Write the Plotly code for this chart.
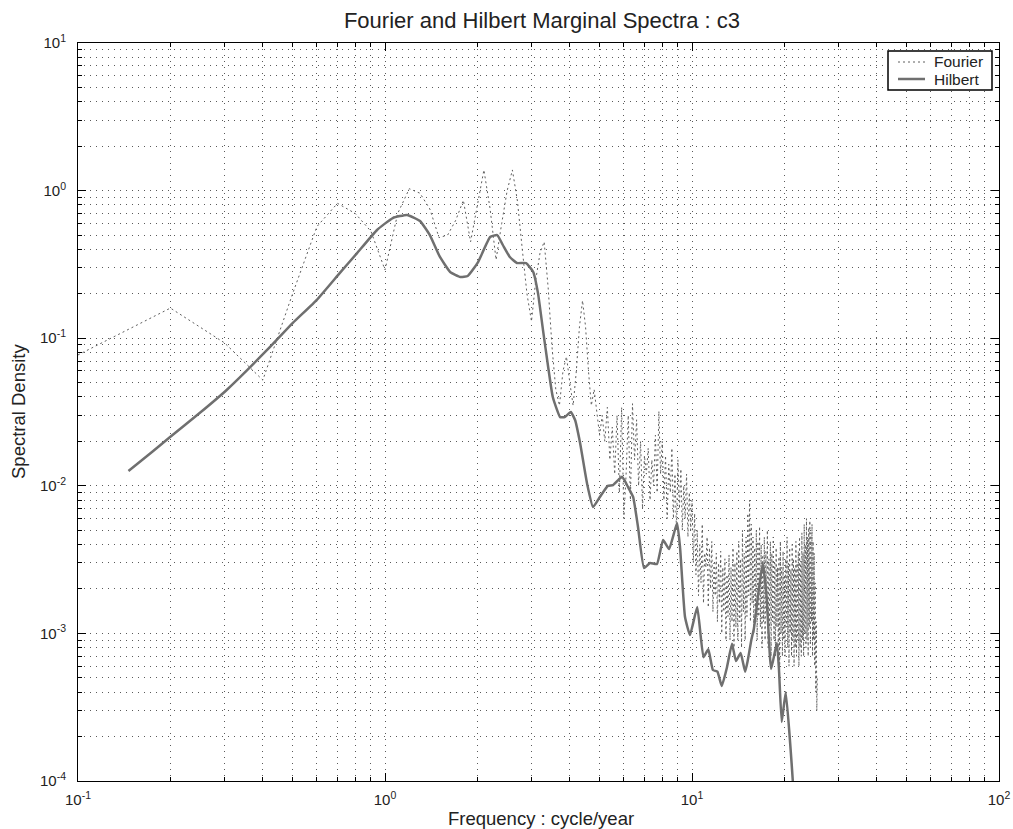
import plotly.graph_objects as go

# Hilbert marginal spectrum: frequency (cycle/year) and spectral density
hilbert_freq = [
    0.146, 0.175, 0.1995, 0.249, 0.305, 0.413, 0.501, 0.600, 0.713, 0.811,
    0.942, 1.06, 1.18, 1.30, 1.40, 1.51, 1.63, 1.76, 1.86, 2.01,
    2.20, 2.32, 2.42, 2.55, 2.69, 2.88, 3.04, 3.15, 3.27, 3.40,
    3.52, 3.72, 3.85, 4.03, 4.16, 4.32, 4.55, 4.76, 5.01, 5.32,
    5.53, 5.92, 6.19, 6.43, 6.67, 6.98, 7.30, 7.69, 8.05, 8.42,
    8.94, 9.14, 9.49, 9.85, 10.4, 10.9, 11.3, 11.7, 12.1, 12.5,
    13.0, 13.5, 13.9, 14.4, 14.9, 15.2, 15.6, 15.9, 16.3, 17.0,
    17.5, 18.1, 18.9, 19.2, 19.6, 20.2, 21.3, 21.8,
]
hilbert_psd = [
    0.0126, 0.0171, 0.0214, 0.0311, 0.0446, 0.0832, 0.127, 0.182, 0.277, 0.377,
    0.541, 0.652, 0.684, 0.622, 0.500, 0.355, 0.281, 0.260, 0.264, 0.328,
    0.485, 0.500, 0.428, 0.355, 0.323, 0.323, 0.281, 0.202, 0.114, 0.0638,
    0.040, 0.0292, 0.0292, 0.0316, 0.0279, 0.0195, 0.0104, 0.00718, 0.00839, 0.00998,
    0.0101, 0.0115, 0.0098, 0.0084, 0.00526, 0.00277, 0.0030, 0.00295, 0.0043, 0.00373,
    0.0056, 0.00385, 0.00129, 0.000975, 0.00151, 0.00069, 0.00078, 0.000565, 0.00055, 0.00044,
    0.00059, 0.00085, 0.00065, 0.000736, 0.00055, 0.00066, 0.00090, 0.00107, 0.00161, 0.0030,
    0.00177, 0.000574, 0.00086, 0.00057, 0.000251, 0.0004, 0.0001, 0.00004,
]

# Fourier spectrum, one value every 0.1 cycle/year starting at 0.1
fourier_df = 0.1
fourier_psd = [
    # 0.1 - 1.0
    0.077, 0.16, 0.093, 0.052, 0.20, 0.57, 0.82, 0.70, 0.53, 0.29,
    # 1.1 - 2.0
    0.70, 1.03, 0.96, 0.75, 0.48, 0.50, 0.63, 0.86, 0.45, 0.80,
    # 2.1 - 3.0
    1.38, 0.75, 0.34, 0.60, 1.0, 1.38, 0.85, 0.40, 0.20, 0.13,
    # 3.1 - 4.0
    0.25, 0.38, 0.45, 0.22, 0.087, 0.045, 0.035, 0.06, 0.075, 0.05,
    # 4.1 - 5.0
    0.035, 0.06, 0.12, 0.18, 0.12, 0.06, 0.035, 0.045, 0.03, 0.022,
    # 5.1 - 6.0
    0.03, 0.02, 0.034, 0.015, 0.025, 0.012, 0.03, 0.009, 0.034, 0.006,
    # 6.1 - 7.0
    0.012, 0.03, 0.008, 0.036, 0.015, 0.028, 0.01, 0.02, 0.007, 0.016,
    # 7.1 - 8.0
    0.012, 0.018, 0.008, 0.015, 0.01, 0.022, 0.009, 0.032, 0.012, 0.02,
    # 8.1 - 9.0
    0.008, 0.016, 0.006, 0.014, 0.009, 0.018, 0.006, 0.012, 0.005, 0.015,
    # 9.1 - 10.0
    0.007, 0.013, 0.005, 0.01, 0.006, 0.012, 0.0045, 0.009, 0.005, 0.008,
    # 10.1 - 11.0
    0.003, 0.0065, 0.0025, 0.005, 0.0018, 0.004, 0.0022, 0.0055, 0.0016, 0.0035,
    # 11.1 - 12.0
    0.0028, 0.0045, 0.0015, 0.0038, 0.002, 0.0042, 0.0014, 0.003, 0.0018, 0.0035,
    # 12.1 - 13.0
    0.0012, 0.003, 0.0016, 0.0036, 0.001, 0.0028, 0.0014, 0.0032, 0.0009, 0.0025,
    # 13.1 - 14.0
    0.0013, 0.0034, 0.0009, 0.0028, 0.0012, 0.0038, 0.0008, 0.003, 0.0011, 0.0036,
    # 14.1 - 15.0
    0.0009, 0.0042, 0.0012, 0.0032, 0.0008, 0.005, 0.0014, 0.0035, 0.0009, 0.0045,
    # 15.1 - 16.0
    0.0013, 0.0065, 0.0018, 0.008, 0.0012, 0.0055, 0.0016, 0.0045, 0.001, 0.0038,
    # 16.1 - 17.0
    0.0015, 0.005, 0.0009, 0.0042, 0.0013, 0.0053, 0.0011, 0.004, 0.0008, 0.0034,
    # 17.1 - 18.0
    0.0012, 0.0045, 0.0009, 0.0036, 0.0014, 0.005, 0.0008, 0.0032, 0.0011, 0.0042,
    # 18.1 - 19.0
    0.0007, 0.0035, 0.0012, 0.0045, 0.0009, 0.003, 0.0007, 0.0038, 0.0011, 0.0028,
    # 19.1 - 20.0
    0.0008, 0.0033, 0.0006, 0.0042, 0.001, 0.0028, 0.0007, 0.0036, 0.0009, 0.0025,
    # 20.1 - 21.0
    0.0007, 0.0032, 0.0011, 0.0045, 0.0008, 0.003, 0.0006, 0.0038, 0.001, 0.0027,
    # 21.1 - 22.0
    0.0007, 0.004, 0.0009, 0.0032, 0.0006, 0.0028, 0.0008, 0.0042, 0.0007, 0.003,
    # 22.1 - 23.0
    0.0009, 0.0036, 0.0006, 0.0045, 0.0008, 0.0031, 0.0007, 0.0048, 0.0009, 0.0035,
    # 23.1 - 24.0
    0.0007, 0.0055, 0.001, 0.004, 0.0008, 0.006, 0.0009, 0.0045, 0.0007, 0.0052,
    # 24.1 - 25.0
    0.0011, 0.0058, 0.0008, 0.0048, 0.0012, 0.0055, 0.0007, 0.0042, 0.0009, 0.0035,
    # 25.1 - 25.6
    0.0006, 0.0022, 0.0004, 0.0012, 0.0003, 0.0005,
]
fourier_freq = [round(fourier_df * (k + 1), 2) for k in range(len(fourier_psd))]

x_tick_vals = [0.1, 1, 10, 100]
x_tick_text = ["10<sup>-1</sup>", "10<sup>0</sup>", "10<sup>1</sup>", "10<sup>2</sup>"]
y_tick_vals = [1e-4, 1e-3, 1e-2, 1e-1, 1, 10]
y_tick_text = ["10<sup>-4</sup>", "10<sup>-3</sup>", "10<sup>-2</sup>",
               "10<sup>-1</sup>", "10<sup>0</sup>", "10<sup>1</sup>"]

FONT = "Liberation Sans, Arial, Helvetica, sans-serif"
TEXT = "#222"
GRID = "#5a5a5a"
GRID_DASH = "1px,5px"
FOURIER_LINE = dict(color="#5e5e5e", width=1, dash="2px,3px")
HILBERT_LINE = dict(color="#6f6f6f", width=2.5)

# Plot area in pixels (used for paper-relative placement of labels/legend)
W, H = 1013, 829
L, R, T, B = 78, 999, 43, 781


def px_x(px):
    return (px - L) / (R - L)


def px_y(py):
    return (B - py) / (B - T)


def minor_positions(lo_exp, hi_exp):
    return [m * 10.0 ** e for e in range(lo_exp, hi_exp) for m in range(2, 10)]


fig = go.Figure()

fig.add_trace(go.Scatter(
    x=fourier_freq, y=fourier_psd, mode="lines", name="Fourier",
    line=FOURIER_LINE, showlegend=False,
))
fig.add_trace(go.Scatter(
    x=hilbert_freq, y=hilbert_psd, mode="lines", name="Hilbert",
    line=dict(**HILBERT_LINE, shape="spline", smoothing=0.4), showlegend=False,
))

axis_common = dict(
    type="log", automargin=False,
    showline=True, linecolor="black", linewidth=1, mirror="ticks",
    ticks="inside", ticklen=8, tickcolor="black", tickwidth=1,
    showgrid=True, gridcolor=GRID, gridwidth=1, griddash=GRID_DASH,
    zeroline=False,
    tickfont=dict(family=FONT, size=15, color=TEXT),
)

fig.update_xaxes(
    **axis_common,
    range=[-1, 2],
    tickmode="array", tickvals=x_tick_vals, ticktext=x_tick_text,
    ticklabelstandoff=5,
    minor=dict(tickmode="array", tickvals=minor_positions(-1, 2),
               ticks="inside", ticklen=4, tickcolor="black",
               showgrid=True, gridcolor=GRID, gridwidth=1, griddash=GRID_DASH),
)
fig.update_yaxes(
    **axis_common,
    range=[-4, 1],
    tickmode="array", tickvals=y_tick_vals, ticktext=y_tick_text,
    ticklabelstandoff=8,
    minor=dict(tickmode="array", tickvals=minor_positions(-4, 1),
               ticks="inside", ticklen=4, tickcolor="black",
               showgrid=True, gridcolor=GRID, gridwidth=1, griddash=GRID_DASH),
)

# Legend box drawn in paper coordinates
leg_x0, leg_x1, leg_y0, leg_y1 = 888, 992, 51, 90
legend_rows = [("Fourier", FOURIER_LINE, 62), ("Hilbert", HILBERT_LINE, 79)]

shapes = [dict(type="rect", xref="paper", yref="paper",
               x0=px_x(leg_x0), x1=px_x(leg_x1), y0=px_y(leg_y1), y1=px_y(leg_y0),
               line=dict(color="black", width=1.5), fillcolor="white", layer="above")]
annotations = []
for name, style, row_y in legend_rows:
    shapes.append(dict(type="line", xref="paper", yref="paper",
                       x0=px_x(898), x1=px_x(925), y0=px_y(row_y), y1=px_y(row_y),
                       line=style, layer="above"))
    annotations.append(dict(text=name, xref="paper", yref="paper",
                            x=px_x(932), y=px_y(row_y), xanchor="left", yanchor="middle",
                            showarrow=False, font=dict(family=FONT, size=15.5, color=TEXT)))

annotations += [
    dict(text="Frequency : cycle/year", xref="paper", yref="paper",
         x=px_x(541), y=px_y(818), xanchor="center", yanchor="middle",
         showarrow=False, font=dict(family=FONT, size=18.5, color=TEXT)),
    dict(text="Spectral Density", xref="paper", yref="paper",
         x=px_x(18), y=px_y(412), xanchor="center", yanchor="middle",
         textangle=-90, showarrow=False,
         font=dict(family=FONT, size=18.5, color=TEXT)),
]

fig.update_layout(
    width=W, height=H,
    margin=dict(l=L, r=W - R, t=T, b=H - B),
    paper_bgcolor="white", plot_bgcolor="white",
    font=dict(family=FONT, color=TEXT),
    title=dict(
        text="Fourier and Hilbert Marginal Spectra : c3",
        x=542 / W, xanchor="center",
        y=1 - 20 / H, yanchor="middle", yref="container",
        font=dict(family=FONT, size=22, color=TEXT),
    ),
    showlegend=False,
    shapes=shapes,
    annotations=annotations,
)

fig.write_html("out.html")
